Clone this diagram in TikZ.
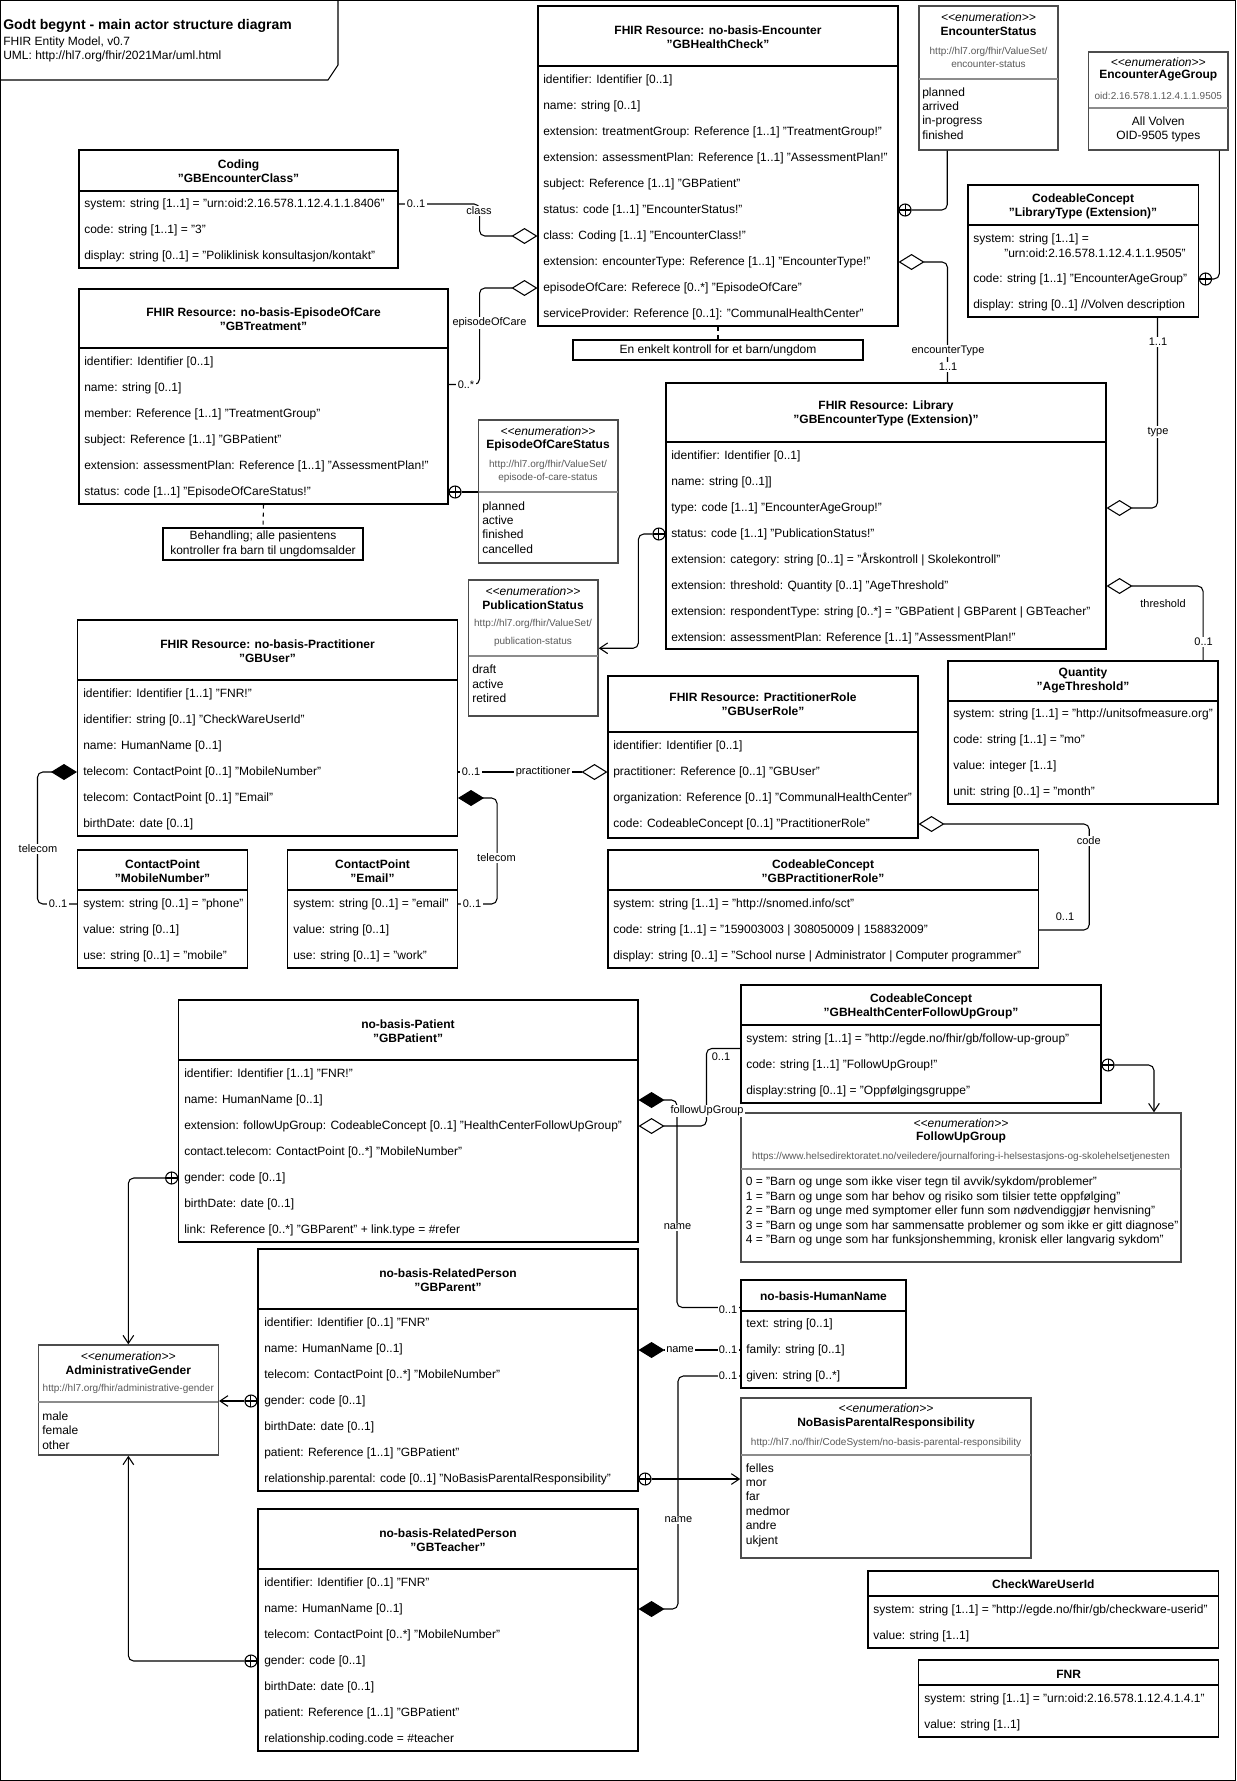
\documentclass[tikz,border=0pt]{standalone}
\usepackage{fontspec}
\setmainfont{Liberation Sans}
\usetikzlibrary{arrows.meta,calc,fit}

\newcommand\enumtag{<\kern0pt<enumeration>\kern0pt>}
\newcommand\classbox[6]{\node[box, fit={(#2,#3) (#4,#5)}] (#1) {};
  \draw[line width=0.8pt] (#2,#6) -- (#4,#6);}
\newcommand\enumbox[6]{\node[enumbox, fit={(#2,#3) (#4,#5)}] (#1) {};
  \draw[black!45, line width=0.8pt] (#2,#6) -- (#4,#6);}
\newcommand\rows[4]{\foreach \t [count=\i] in {#4} {\node[attr] (#1-\i) at (#2,{#3+26*(\i-1)}) {\t};}}

\tikzset{
  box/.style={draw, line width=0.8pt, inner sep=0pt},
  enumbox/.style={draw=black!70, line width=1.1pt, inner sep=0pt},
  ttl/.style={font=\fontsize{9}{10.5}\selectfont\bfseries, align=center},
  attr/.style={anchor=west},
  items/.style={anchor=west, align=left, font=\fontsize{9}{10.8}\selectfont},
  stereo/.style={font=\fontsize{9}{10.5}\selectfont\itshape},
  url/.style={font=\fontsize{7.5}{9.75}\selectfont, text=black!65, align=center},
  lbl/.style={fill=white, inner sep=1pt, font=\fontsize{8.25}{9}\selectfont},
  conn/.style={line width=0.8pt, rounded corners=4pt},
  odia/.style={-{Diamond[open, length=19.5pt, width=12pt]}},
  fdia/.style={-{Diamond[length=19.5pt, width=12pt]}},
  oarr/.style={-{Straight Barb[length=6pt, width=8pt]}},
  cplus/.style={circle, draw, fill=white, line width=0.8pt, minimum size=9pt, inner sep=0pt,
    path picture={\draw[line width=0.8pt] (path picture bounding box.north) -- (path picture bounding box.south)
      (path picture bounding box.west) -- (path picture bounding box.east);}},
}

\begin{document}
\begin{tikzpicture}[x=0.75pt, y=-0.75pt, font=\fontsize{9}{10.8}\selectfont, every node/.style={inner sep=0pt}]
  \useasboundingbox (0,0) rectangle (1236,1781);

  %%%%% FRAME %%%%%
  \draw[line width=0.8pt] (0.6,0.6) rectangle (1235.4,1780.4);
  \draw[line width=0.8pt] (0.6,80) -- (328,80) -- (338,65) -- (338,0.6);
  \node[anchor=west, font=\fontsize{10.5}{12}\selectfont\bfseries] (hd-1) at (3,26) {Godt begynt - main actor structure diagram};
  \node[anchor=west] (hd-2) at (3,42) {FHIR Entity Model, v0.7};
  \node[anchor=west] (hd-3) at (3,56) {UML: http://hl7.org/fhir/2021Mar/uml.html};

  %%%%% ENCOUNTER %%%%%
  \classbox{hc}{538}{6}{898}{326}{66}
  \node[ttl] (hc-t) at (718,37) {FHIR Resource: no-basis-Encounter\\"GBHealthCheck"};
  \rows{hc}{543}{80}{{identifier: Identifier [0..1]},{name: string [0..1]},
    {extension: treatmentGroup: Reference [1..1] "TreatmentGroup!"},
    {extension: assessmentPlan: Reference [1..1] "AssessmentPlan!"},
    {subject: Reference [1..1] "GBPatient"},{status: code [1..1] "EncounterStatus!"},
    {class: Coding [1..1] "EncounterClass!"},
    {extension: encounterType: Reference [1..1] "EncounterType!"},
    {episodeOfCare: Referece [0..*] "EpisodeOfCare"},
    {serviceProvider: Reference [0..1]: "CommunalHealthCenter"}}
  \node[box, fit={(573,340) (863,360)}] (note1) {};
  \node (note1-t) at (note1.center) {En enkelt kontroll for et barn/ungdom};

  \classbox{coding}{79}{150}{398}{268}{191}
  \node[ttl] (coding-t) at (238.5,171) {Coding\\"GBEncounterClass"};
  \rows{coding}{84}{204}{{system: string [1..1] = "urn:oid:2.16.578.1.12.4.1.1.8406"},
    {code: string [1..1] = "3"},{display: string [0..1] = "Poliklinisk konsultasjon/kontakt"}}

  \classbox{eoc}{79}{289}{448}{504}{348}
  \node[ttl] (eoc-t) at (263.5,319) {FHIR Resource: no-basis-EpisodeOfCare\\"GBTreatment"};
  \rows{eoc}{84}{362}{{identifier: Identifier [0..1]},{name: string [0..1]},
    {member: Reference [1..1] "TreatmentGroup"},{subject: Reference [1..1] "GBPatient"},
    {extension: assessmentPlan: Reference [1..1] "AssessmentPlan!"},
    {status: code [1..1] "EpisodeOfCareStatus!"}}
  \node[box, fit={(163,528) (363,560)}] (note2) {};
  \node[align=center] (note2-t) at (note2.center) {Behandling; alle pasientens\\kontroller fra barn til ungdomsalder};

  \enumbox{encst}{919}{6}{1058}{150}{79}
  \node[stereo] (encst-s) at (988.5,17) {\enumtag};
  \node[ttl] (encst-t) at (988.5,31) {EncounterStatus};
  \node[url] (encst-u) at (988.5,57.5) {http://hl7.org/fhir/ValueSet/\\encounter-status};
  \node[items] (encst-i) at (922,113.5) {planned\\arrived\\in-progress\\finished};

  \enumbox{ag}{1088.5}{52}{1228}{150}{108}
  \node[stereo] (ag-s) at (1158.3,62) {\enumtag};
  \node[ttl] (ag-t) at (1158.3,76) {EncounterAgeGroup};
  \node[url] (ag-u) at (1158.3,96) {oid:2.16.578.1.12.4.1.1.9505};
  \node[align=center] (ag-i) at (1158.3,129.5) {All Volven\\OID-9505 types};

  \classbox{lt}{968}{185}{1198.5}{317}{225}
  \node[ttl] (lt-t) at (1083,206) {CodeableConcept\\"LibraryType (Extension)"};
  \node[attr] (lt-1) at (973,239) {system: string [1..1] =};
  \node[attr] (lt-1b) at (1004,253) {"urn:oid:2.16.578.1.12.4.1.1.9505"};
  \node[attr] (lt-2) at (973,279) {code: string [1..1] "EncounterAgeGroup"};
  \node[attr] (lt-3) at (973,305) {display: string [0..1] //Volven description};

  \enumbox{eocst}{478.5}{420}{618}{563}{492}
  \node[stereo] (eocst-s) at (548,431) {\enumtag};
  \node[ttl] (eocst-t) at (548,445) {EpisodeOfCareStatus};
  \node[url] (eocst-u) at (548,471) {http://hl7.org/fhir/ValueSet/\\episode-of-care-status};
  \node[items] (eocst-i) at (482,527.5) {planned\\active\\finished\\cancelled};

  %%%%% LIBRARY %%%%%
  \classbox{lib}{666}{383}{1106}{649}{442}
  \node[ttl] (lib-t) at (886,413) {FHIR Resource: Library\\"GBEncounterType (Extension)"};
  \rows{lib}{671}{456}{{identifier: Identifier [0..1]},{name: string [0..1]]},
    {type: code [1..1] "EncounterAgeGroup!"},{status: code [1..1] "PublicationStatus!"},
    {extension: category: string [0..1] = "Årskontroll | Skolekontroll"},
    {extension: threshold: Quantity [0..1] "AgeThreshold"},
    {extension: respondentType: string [0..*] = "GBPatient | GBParent | GBTeacher"},
    {extension: assessmentPlan: Reference [1..1] "AssessmentPlan!"}}

  \enumbox{pub}{468.6}{580}{598}{716}{656}
  \node[stereo] (pub-s) at (533,591) {\enumtag};
  \node[ttl] (pub-t) at (533,605) {PublicationStatus};
  \node[url] (pub-u) at (533,633) {http://hl7.org/fhir/ValueSet/\\[3.75pt]publication-status};
  \node[items] (pub-i) at (472,684) {draft\\active\\retired};

  \classbox{qty}{948}{661}{1218}{804}{701}
  \node[ttl] (qty-t) at (1083,680.5) {Quantity\\"AgeThreshold"};
  \rows{qty}{953}{714}{{system: string [1..1] = "http://unitsofmeasure.org"},
    {code: string [1..1] = "mo"},{value: integer [1..1]},{unit: string [0..1] = "month"}}

  %%%%% PRACTITIONER %%%%%
  \classbox{gbu}{77.5}{620}{457.5}{836}{680}
  \node[ttl] (gbu-t) at (267.5,651) {FHIR Resource: no-basis-Practitioner\\"GBUser"};
  \rows{gbu}{83}{694}{{identifier: Identifier [1..1] "FNR!"},
    {identifier: string [0..1] "CheckWareUserId"},{name: HumanName [0..1]},
    {telecom: ContactPoint [0..1] "MobileNumber"},{telecom: ContactPoint [0..1] "Email"},
    {birthDate: date [0..1]}}

  \classbox{role}{608}{676}{918}{838}{732}
  \node[ttl] (role-t) at (763,704.5) {FHIR Resource: PractitionerRole\\"GBUserRole"};
  \rows{role}{613}{746}{{identifier: Identifier [0..1]},{practitioner: Reference [0..1] "GBUser"},
    {organization: Reference [0..1] "CommunalHealthCenter"},
    {code: CodeableConcept [0..1] "PractitionerRole"}}

  \classbox{mob}{77.5}{850}{247.5}{968}{890}
  \node[ttl] (mob-t) at (162.5,871) {ContactPoint\\"MobileNumber"};
  \rows{mob}{83}{904}{{system: string [0..1] = "phone"},{value: string [0..1]},{use: string [0..1] = "mobile"}}

  \classbox{email}{287.5}{850}{457.5}{968}{890}
  \node[ttl] (email-t) at (372.5,871) {ContactPoint\\"Email"};
  \rows{email}{293}{904}{{system: string [0..1] = "email"},{value: string [0..1]},{use: string [0..1] = "work"}}

  \classbox{gbpr}{608}{850}{1038.7}{968}{890}
  \node[ttl] (gbpr-t) at (823,871) {CodeableConcept\\"GBPractitionerRole"};
  \rows{gbpr}{613}{904}{{system: string [1..1] = "http://snomed.info/sct"},
    {code: string [1..1] = "159003003 | 308050009 | 158832009"},
    {display: string [0..1] = "School nurse | Administrator | Computer programmer"}}

  %%%%% PATIENT %%%%%
  \classbox{pat}{178.7}{1000}{638}{1242}{1060}
  \node[ttl] (pat-t) at (408,1031) {no-basis-Patient\\"GBPatient"};
  \rows{pat}{184}{1074}{{identifier: Identifier [1..1] "FNR!"},{name: HumanName [0..1]},
    {extension: followUpGroup: CodeableConcept [0..1] "HealthCenterFollowUpGroup"},
    {contact.telecom: ContactPoint [0..*] "MobileNumber"},{gender: code [0..1]},
    {birthDate: date [0..1]},{link: Reference [0..*] "GBParent" + link.type = \#refer}}

  \classbox{fcc}{741}{985}{1101}{1103}{1025}
  \node[ttl] (fcc-t) at (921,1006) {CodeableConcept\\"GBHealthCenterFollowUpGroup"};
  \rows{fcc}{746}{1039}{{system: string [1..1] = "http://egde.no/fhir/gb/follow-up-group"},
    {code: string [1..1] "FollowUpGroup!"},{display:string [0..1] = "Oppfølgingsgruppe"}}

  \enumbox{fug}{741}{1113}{1181}{1262}{1169}
  \node[stereo] (fug-s) at (961,1123) {\enumtag};
  \node[ttl] (fug-t) at (961,1137) {FollowUpGroup};
  \node[url] (fug-u) at (961,1157) {https://www.helsedirektoratet.no/veiledere/journalforing-i-helsestasjons-og-skolehelsetjenesten};
  \node[items] (fug-i) at (745.6,1211.5) {0 = "Barn og unge som ikke viser tegn til avvik/sykdom/problemer"\\
    1 = "Barn og unge som har behov og risiko som tilsier tette oppfølging"\\
    2 = "Barn og unge med symptomer eller funn som nødvendiggjør henvisning"\\
    3 = "Barn og unge som har sammensatte problemer og som ikke er gitt diagnose"\\
    4 = "Barn og unge som har funksjonshemming, kronisk eller langvarig sykdom"};

  \classbox{hn}{741}{1280}{906}{1388}{1311}
  \node[ttl] (hn-t) at (823.5,1296) {no-basis-HumanName};
  \rows{hn}{746}{1324}{{text: string [0..1]},{family: string [0..1]},{given: string [0..*]}}

  \enumbox{nbp}{741}{1398}{1031}{1558}{1455}
  \node[stereo] (nbp-s) at (886,1408) {\enumtag};
  \node[ttl] (nbp-t) at (886,1423) {NoBasisParentalResponsibility};
  \node[url] (nbp-u) at (886,1443) {http://hl7.no/fhir/CodeSystem/no-basis-parental-responsibility};
  \node[items] (nbp-i) at (745.6,1505) {felles\\mor\\far\\medmor\\andre\\ukjent};

  \classbox{par}{258}{1249}{638}{1491}{1309}
  \node[ttl] (par-t) at (448,1280) {no-basis-RelatedPerson\\"GBParent"};
  \rows{par}{264}{1323}{{identifier: Identifier [0..1] "FNR"},{name: HumanName [0..1]},
    {telecom: ContactPoint [0..*] "MobileNumber"},{gender: code [0..1]},{birthDate: date [0..1]},
    {patient: Reference [1..1] "GBPatient"},
    {relationship.parental: code [0..1] "NoBasisParentalResponsibility"}}

  \classbox{tea}{258}{1509}{638}{1751}{1569}
  \node[ttl] (tea-t) at (448,1540) {no-basis-RelatedPerson\\"GBTeacher"};
  \rows{tea}{264}{1583}{{identifier: Identifier [0..1] "FNR"},{name: HumanName [0..1]},
    {telecom: ContactPoint [0..*] "MobileNumber"},{gender: code [0..1]},{birthDate: date [0..1]},
    {patient: Reference [1..1] "GBPatient"},{relationship.coding.code = \#teacher}}

  \enumbox{adm}{38.4}{1345}{218.3}{1455}{1402}
  \node[stereo] (adm-s) at (128.3,1356) {\enumtag};
  \node[ttl] (adm-t) at (128.3,1370) {AdministrativeGender};
  \node[url] (adm-u) at (128.3,1389) {http://hl7.org/fhir/administrative-gender};
  \node[items] (adm-i) at (42,1430.5) {male\\female\\other};

  \classbox{cwu}{868}{1571}{1218.6}{1648}{1596}
  \node[ttl] (cwu-t) at (1043.3,1584) {CheckWareUserId};
  \rows{cwu}{873}{1610}{{system: string [1..1] = "http://egde.no/fhir/gb/checkware-userid"},{value: string [1..1]}}

  \classbox{fnr}{918.6}{1660}{1218.6}{1737}{1685}
  \node[ttl] (fnr-t) at (1068.6,1674) {FNR};
  \rows{fnr}{924}{1699}{{system: string [1..1] = "urn:oid:2.16.578.1.12.4.1.4.1"},{value: string [1..1]}}

  %%%%% CONNECTORS %%%%%
  \draw[dashed, dash pattern=on 3pt off 3pt, line width=0.8pt] (hc.south) -- (note1.north);
  \draw[dashed, dash pattern=on 3pt off 3pt, line width=0.8pt] (eoc.south) -- (note2.north);

  \draw[conn, odia] (coding.east |- coding-1) -- ++(81,0) |- (hc.west |- hc-7);
  \draw[conn, odia] ($(eoc.north east)+(0,96)$) -- ++(31,0) |- (hc.west |- hc-9);
  \node[cplus, anchor=west] (hc-c) at (hc.east |- hc-6) {};
  \draw[conn] (hc-c.east) -| ($(encst.south west)+(29,0)$);
  \node[cplus, anchor=west] (lt-c) at (lt.east |- lt-2) {};
  \draw[conn] (lt-c.east) -| ($(ag.south east)+(-9.4,0)$);
  \draw[conn, odia] ($(lib.north west)+(282,0)$) |- (hc.east |- hc-8);
  \draw[conn, odia] ($(lt.south west)+(190,0)$) |- (lib.east |- lib-3);
  \draw[conn, odia] ($(qty.north west)+(255.6,0)$) |- (lib.east |- lib-6);
  \node[cplus, anchor=west] (eoc-c) at (eoc.east |- eoc-6) {};
  \draw[conn] (eoc-c.east) -- (eocst.west |- eoc-c);
  \node[cplus, anchor=east] (lib-c) at (lib.west |- lib-4) {};
  \draw[conn, oarr] (lib-c.west) -- ++(-14,0) |- ($(pub.north east)+(0,69)$);
  \draw[conn, odia] (gbu.east |- gbu-4) -- (role.west |- role-2);
  \draw[conn, odia] (gbpr.east |- gbpr-2) -- ++(50,0) |- (role.east |- role-4);
  \draw[conn, fdia] (mob.west |- mob-1) -- ++(-39.5,0) |- (gbu.west |- gbu-4);
  \draw[conn, fdia] (email.east |- email-1) -- ++(39,0) |- (gbu.east |- gbu-5);
  \draw[conn, odia] ($(fcc.north west)+(0,64)$) -- ++(-34,0) |- (pat.east |- pat-3);
  \draw[conn, fdia] ($(hn.north west)+(0,28)$) -- ++(-63.5,0) |- (pat.east |- pat-2);
  \draw[conn, fdia] (hn.west |- hn-2) -- (par.east |- hn-2);
  \draw[conn, fdia] (hn.west |- hn-3) -- ++(-62.5,0) |- (tea.east |- tea-2);
  \node[cplus, anchor=west] (par-c) at (par.east |- par-7) {};
  \draw[conn, oarr] (par-c.east) -- (nbp.west |- par-c);
  \node[cplus, anchor=west] (fcc-c) at (fcc.east |- fcc-2) {};
  \draw[conn, oarr] (fcc-c.east) -| ($(fug.north west)+(413.7,0)$);
  \node[cplus, anchor=east] (pat-c) at (pat.west |- pat-5) {};
  \draw[conn, oarr] (pat-c.west) -| (adm.north);
  \node[cplus, anchor=east] (par-g) at (par.west |- par-4) {};
  \draw[conn, oarr] (par-g.west) -- (adm.east |- par-g);
  \node[cplus, anchor=east] (tea-g) at (tea.west |- tea-4) {};
  \draw[conn, oarr] (tea-g.west) -| (adm.south);

  %%%%% LABELS %%%%%
  \node[lbl] (l-1) at (416,204) {0..1};
  \node[lbl] (l-2) at (479,211) {class};
  \node[lbl] (l-3) at (489.5,323) {episodeOfCare};
  \node[lbl] (l-4) at (466,385) {0..*};
  \node[lbl] (l-5) at (948,351) {encounterType};
  \node[lbl] (l-6) at (948,367) {1..1};
  \node[lbl] (l-7) at (1158,342) {1..1};
  \node[lbl] (l-8) at (1158,432) {type};
  \node[lbl] (l-9) at (1163,604) {threshold};
  \node[lbl] (l-10) at (1203.6,642) {0..1};
  \node[lbl] (l-11) at (471,772) {0..1};
  \node[lbl] (l-12) at (543,772) {practitioner};
  \node[lbl] (l-13) at (1088.7,841) {code};
  \node[lbl] (l-14) at (1065,917) {0..1};
  \node[lbl] (l-15) at (38,849) {telecom};
  \node[lbl] (l-16) at (58,904) {0..1};
  \node[lbl] (l-17) at (496.5,858) {telecom};
  \node[lbl] (l-18) at (472,904) {0..1};
  \node[lbl] (l-19) at (721,1057) {0..1};
  \node[lbl] (l-20) at (707,1111) {followUpGroup};
  \node[lbl] (l-21) at (677.5,1227) {name};
  \node[lbl] (l-22) at (728,1310) {0..1};
  \node[lbl] (l-23) at (680,1350) {name};
  \node[lbl] (l-24) at (728,1350) {0..1};
  \node[lbl] (l-25) at (678.5,1520) {name};
  \node[lbl] (l-26) at (728,1376) {0..1};
\end{tikzpicture}
\end{document}
